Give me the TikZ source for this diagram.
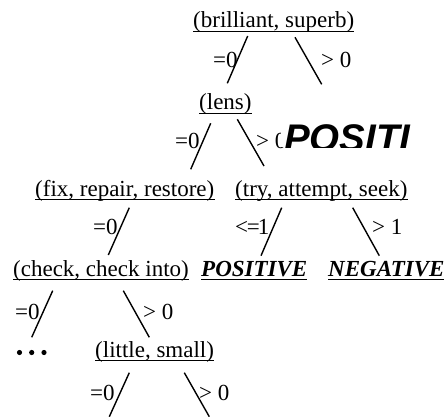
\documentclass[tikz,border=0pt]{standalone}
\usepackage{fontspec}
\setmainfont{Liberation Serif}
\newfontfamily\possans{Liberation Sans}
\begin{document}
\begin{tikzpicture}[x=1pt,y=-1pt,
  txt/.style={inner sep=0pt,anchor=base west,font=\fontsize{23}{27}\selectfont},
  lbl/.style={txt},
  edge/.style={line width=1.4pt},
  uline/.style={line width=1.1pt},
  dot/.style={circle,fill=black,inner sep=0pt,minimum size=5.2pt}]
\useasboundingbox (0,0) rectangle (444,417);

% tree nodes
\node[txt] (brill) at (193,28) {(brilliant, superb)};
\node[txt] (lens) at (199,110) {(lens)};
\node[txt] (fix) at (35,196.5) {(fix, repair, restore)};
\node[txt] (try) at (235,196.5) {(try, attempt, seek)};
\node[txt] (check) at (13,276) {(check, check into)};
\node[txt,font=\fontsize{23}{27}\selectfont\bfseries\itshape] (pos) at (201,276) {POSITIVE};
\node[txt,font=\fontsize{23}{27}\selectfont\bfseries\itshape] (neg) at (328,276) {NEGATIVE};
\node[txt] (little) at (95,357.5) {(little, small)};
\node[dot] (d1) at (19.5,352.5) {};
\node[dot] (d2) at (31.7,352.5) {};
\node[dot] (d3) at (44,352.5) {};

% underlines
\foreach \n in {brill,lens,fix,try,check,pos,neg,little}
  \draw[uline] ([yshift=-3.2pt]\n.base west) -- ([yshift=-3.2pt]\n.base east);

% branch labels
\node[lbl] (l1) at (213,68) {=0};
\node[lbl] (l2) at (321,68) {> 0};
\node[lbl] (l3) at (175,148) {=0};
\node[lbl] (l4) at (256,148) {> 0};
\node[lbl] (l5) at (93,234) {=0};
\node[lbl] (l6) at (235,234) {<\kern-1.2pt=\kern-2pt1};
\node[lbl] (l7) at (372,234) {> 1};
\node[lbl] (l8) at (15,319) {=0};
\node[lbl] (l9) at (143,319) {> 0};
\node[lbl] (l10) at (90,400) {=0};
\node[lbl] (l11) at (199,400) {> 0};

% branch strokes
\coordinate (a1) at (247.7,36);   \coordinate (b1) at (227.3,83.3);
\coordinate (a2) at (295,37.3);   \coordinate (b2) at (321.7,84.3);
\coordinate (a3) at (210.7,123.3);\coordinate (b3) at (190.7,169.3);
\coordinate (a4) at (237.3,119.3);\coordinate (b4) at (264,166);
\coordinate (a5) at (129.3,207.7);\coordinate (b5) at (108.3,255);
\coordinate (a6) at (281.7,207.7);\coordinate (b6) at (261,255.7);
\coordinate (a7) at (352.7,207.7);\coordinate (b7) at (379.3,255.7);
\coordinate (a8) at (52.7,290.7); \coordinate (b8) at (31.7,337.3);
\coordinate (a9) at (123.3,290.7);\coordinate (b9) at (149.3,337.3);
\coordinate (a10) at (129.3,372.7);\coordinate (b10) at (109.3,416.7);
\coordinate (a11) at (184.3,372.7);\coordinate (b11) at (209.3,416.7);
\foreach \i in {1,...,11} \draw[edge] (a\i) -- (b\i);

% overlaid clipped POSITI
\begin{scope}
  \clip (281,118) rectangle (444,147);
  \fill[white] (281,118) rectangle (444,147);
  \node[inner sep=0pt,anchor=base west,font=\possans\fontsize{38.5}{42}\selectfont\bfseries\itshape] (positi) at (284,151.5) {POSITI};
\end{scope}
\end{tikzpicture}
\end{document}
